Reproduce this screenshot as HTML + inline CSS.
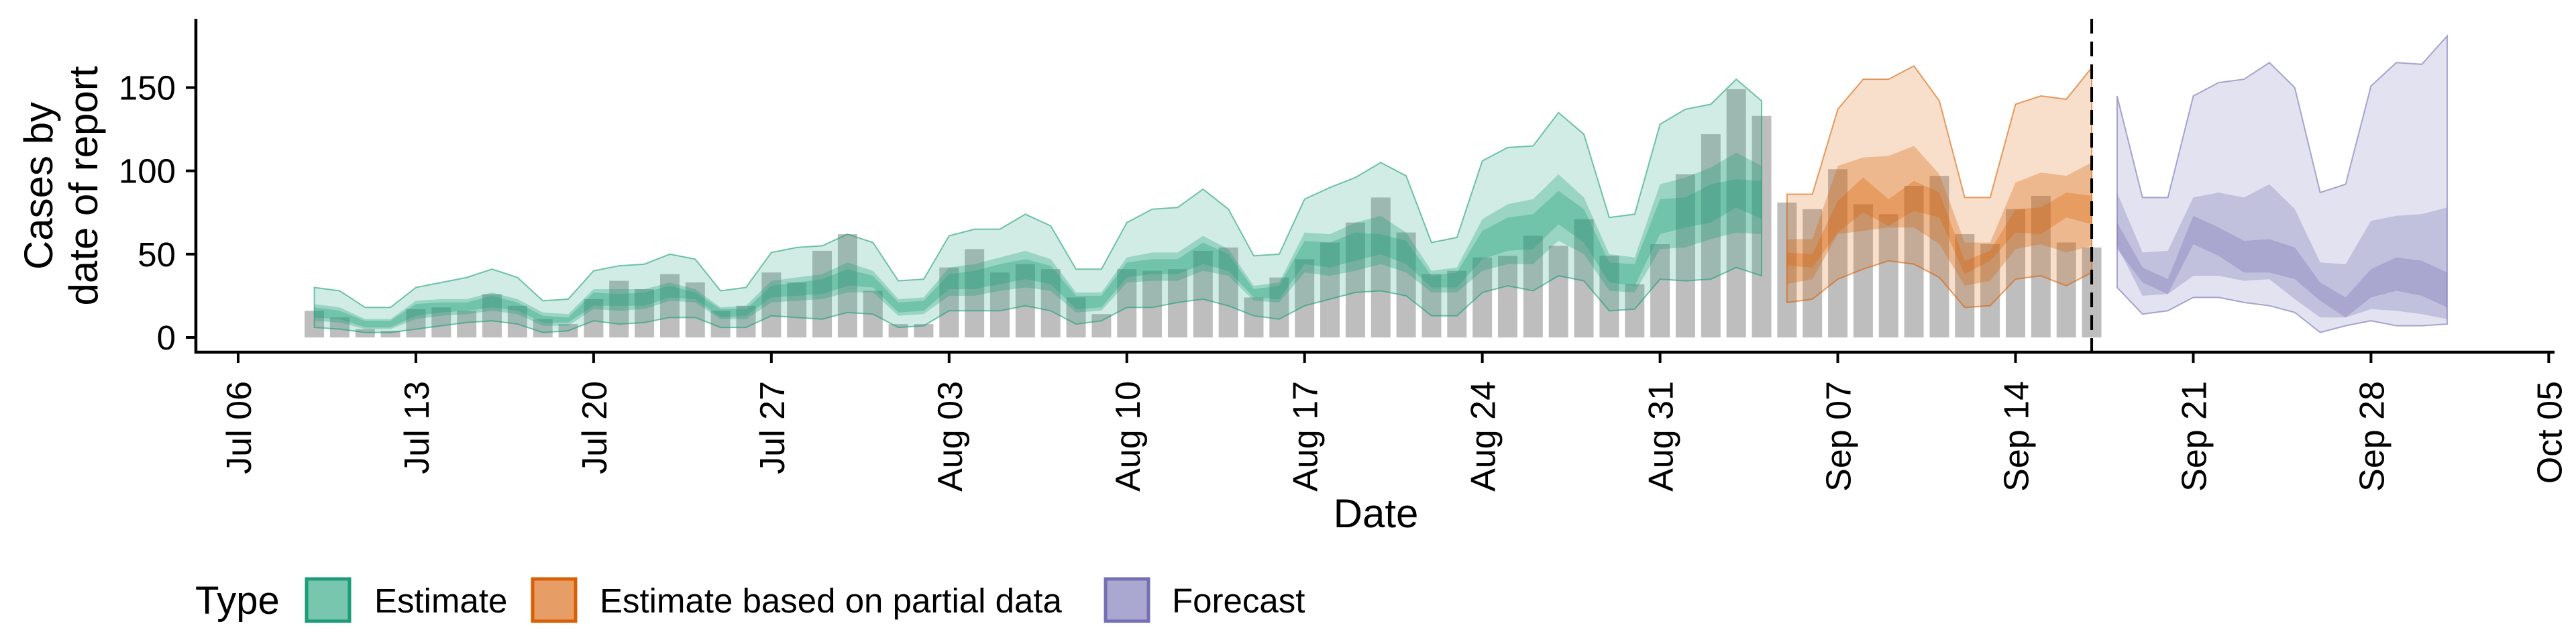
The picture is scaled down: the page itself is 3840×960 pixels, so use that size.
<!DOCTYPE html>
<html><head><meta charset="utf-8"><style>
html,body{margin:0;padding:0;background:#fff;}
svg{display:block;font-family:"Liberation Sans",Arial,sans-serif;}
</style></head><body>
<svg id="chart" width="3840" height="960" viewBox="0 0 3840 960" xmlns="http://www.w3.org/2000/svg">
<g id="bars"></g>
<g id="bands"></g>
<g id="axes"></g>
<text x="2051" y="786" font-size="60" text-anchor="middle">Date</text>
<text transform="translate(78,277) rotate(-90)" font-size="60" text-anchor="middle">Cases by</text>
<text transform="translate(145,277) rotate(-90)" font-size="60" text-anchor="middle">date of report</text>
<g>
<text x="291" y="915" font-size="58">Type</text>
<rect x="457" y="863" width="64" height="63" fill="#78c6ad" stroke="#1b9e77" stroke-width="5"/>
<text x="558" y="913" font-size="51">Estimate</text>
<rect x="794" y="863" width="64" height="63" fill="#e69e66" stroke="#d95f02" stroke-width="5"/>
<text x="894" y="913" font-size="51">Estimate based on partial data</text>
<rect x="1648" y="863" width="64" height="63" fill="#aaa8d1" stroke="#7570b3" stroke-width="5"/>
<text x="1747" y="913" font-size="51">Forecast</text>
</g>
</svg>
<script>
const tickLabels = ["Jul 06","Jul 13","Jul 20","Jul 27","Aug 03","Aug 10","Aug 17","Aug 24","Aug 31","Sep 07","Sep 14","Sep 21","Sep 28","Oct 05"];
const yTicks = [0,50,100,150];
const barStartDay = 3;
const reported = [16,12,5,4,17,18,16,26,19,11,8,23,34,29,38,33,16,19,39,33,52,62,28,8,8,42,53,39,44,41,24,14,41,40,41,52,54,24,36,47,57,69,84,63,38,40,48,49,61,55,71,49,32,56,98,122,149,133,81,77,101,80,74,91,97,62,56,77,85,57,54];
// Estimate (days 3..60)
const estStart = 3;
const estU90 = [30,28,18,18,30,33,36,41,36,22,23,40,43,44,50,47,28,30,51,54,55,62,57,34,35,61,65,65,74,67,41,41,69,77,78,89,77,49,50,83,90,96,105,97,57,60,106,114,115,135,122,72,74,128,137,140,155,142];
const estL90 = [6,5,3,3,5,7,9,10,8,3,4,10,8,9,12,12,6,6,13,12,11,15,14,6,7,16,16,16,19,16,8,10,18,18,21,23,19,13,11,19,23,27,28,25,13,13,27,31,28,37,34,16,17,35,34,35,42,37];
const estU50 = [20,18,11,11,22,23,23,27,23,15,14,29,29,29,33,29,18,19,34,36,38,45,40,23,24,42,44,48,52,47,27,27,48,51,51,61,53,31,33,63,62,69,73,63,40,42,71,80,83,98,84,50,48,92,96,102,111,103];
const estL50 = [10,9,5,5,11,13,14,16,14,7,7,17,16,17,22,21,11,11,21,22,23,27,27,13,14,25,25,28,30,28,15,16,33,34,34,40,37,22,21,39,37,40,44,39,27,27,40,44,44,58,50,28,27,53,54,59,63,62];
const estU20 = [18,16,10,10,20,21,21,25,21,13,12,27,26,27,31,27,17,17,31,33,35,41,37,21,22,38,40,44,47,43,25,25,45,47,47,57,50,29,31,58,57,63,62,58,37,39,64,72,74,88,77,45,44,83,84,92,95,94];
const estL20 = [12,11,6,6,13,15,16,18,16,9,9,19,19,19,24,23,12,13,24,25,26,31,30,15,16,29,29,32,35,32,17,18,36,38,38,44,40,24,23,44,42,46,50,44,30,30,47,52,53,68,57,33,31,62,66,69,78,71];
// Partial data (days 61..73)
const parStart = 61;
const parU90 = [86,86,137,155,155,163,142,84,84,140,145,143,162];
const parL90 = [21,23,35,41,46,44,36,18,19,35,37,31,39];
const parU50 = [59,59,103,108,109,115,98,57,57,93,99,97,105];
const parL50 = [32,35,62,64,66,66,56,31,34,53,56,51,55];
const parU20 = [51,50,82,96,83,94,87,46,52,77,78,87,85];
const parL20 = [43,42,63,75,67,76,72,38,46,63,62,72,68];
// Forecast (days 74..87)
const fcStart = 74;
const fcU90 = [145,84,84,145,153,155,165,150,87,92,151,165,164,181];
const fcL90 = [30,14,16,24,24,21,19,15,3,7,10,7,7,8];
const fcU50 = [87,51,52,84,87,84,92,77,45,44,70,73,74,78];
const fcL50 = [55,25,26,37,37,34,35,23,12,12,17,16,14,11];
const fcU20 = [69,42,35,73,66,58,59,54,33,24,41,48,46,39];
const fcL20 = [53,33,26,56,49,39,39,35,22,12,24,28,25,18];
const partialLineDay = 73;

const NS="http://www.w3.org/2000/svg";
const X0=355, DAY=37.85, Y0=503, PERV=2.483;
function xs(d){return X0+d*DAY;}
function ys(v){return Y0-v*PERV;}
function mk(tag,attrs,parent){const e=document.createElementNS(NS,tag);for(const k in attrs)e.setAttribute(k,attrs[k]);parent.appendChild(e);return e;}

const barsG=document.getElementById('bars');
reported.forEach((v,i)=>{
  const d=barStartDay+i;
  const r=mk('rect',{x:xs(d)-14.5,y:ys(v),width:29,height:Y0-ys(v),fill:'#bebebe'},barsG);
  
  
});

const bandsG=document.getElementById('bands');
function ribbon(start,up,lo,color,op,name,outline){
  let p='M';
  up.forEach((v,i)=>{p+=(i?' L':'')+xs(start+i).toFixed(1)+','+ys(v).toFixed(1);});
  for(let i=lo.length-1;i>=0;i--){p+=' L'+xs(start+i).toFixed(1)+','+ys(lo[i]).toFixed(1);}
  p+=' Z';
  const e=mk('path',{d:p,fill:color,'fill-opacity':op,stroke:outline?color:'none','stroke-width':outline?2:0,'stroke-opacity':0.6},bandsG);
  
  
}
ribbon(estStart,estU90,estL90,'#1b9e77',0.2,'estimate-band-90',true);
ribbon(estStart,estU50,estL50,'#1b9e77',0.3,'estimate-band-50',false);
ribbon(estStart,estU20,estL20,'#1b9e77',0.32,'estimate-band-20',false);
ribbon(parStart,parU90,parL90,'#d95f02',0.2,'partial-band-90',true);
ribbon(parStart,parU50,parL50,'#d95f02',0.3,'partial-band-50',false);
ribbon(parStart,parU20,parL20,'#d95f02',0.32,'partial-band-20',false);
ribbon(fcStart,fcU90,fcL90,'#7570b3',0.2,'forecast-band-90',true);
ribbon(fcStart,fcU50,fcL50,'#7570b3',0.3,'forecast-band-50',false);
ribbon(fcStart,fcU20,fcL20,'#7570b3',0.32,'forecast-band-20',false);

const axG=document.getElementById('axes');
const dl=mk('line',{x1:xs(partialLineDay),x2:xs(partialLineDay),y1:28,y2:525,stroke:'#000','stroke-width':4,'stroke-dasharray':'22,12'},axG);


const ya=mk('line',{x1:292,x2:292,y1:28,y2:527,stroke:'#000','stroke-width':4.5},axG);


const xa=mk('line',{x1:290,x2:3808,y1:525,y2:525,stroke:'#000','stroke-width':4.5},axG);


yTicks.forEach(v=>{
  const t=mk('line',{x1:277,x2:292,y1:ys(v),y2:ys(v),stroke:'#000','stroke-width':4},axG);
  
  
  const l=mk('text',{x:262,y:ys(v)+18,'font-size':51,'text-anchor':'end'},axG);
  l.textContent=v;
  
  
});
tickLabels.forEach((s,i)=>{
  const x=xs(i*7);
  const t=mk('line',{x1:x,x2:x,y1:525,y2:541,stroke:'#000','stroke-width':4},axG);
  
  
  const l=mk('text',{transform:'translate('+(x+19)+',568) rotate(-90)','font-size':52,'text-anchor':'end'},axG);
  l.textContent=s;
  
  
});
</script>
</body></html>
